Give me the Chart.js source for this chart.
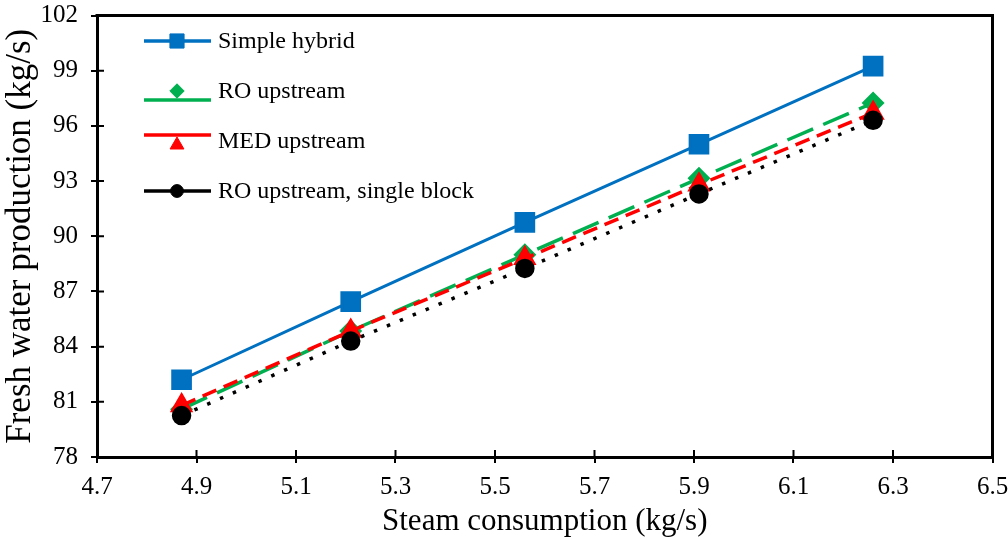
<!DOCTYPE html>
<html>
<head>
<meta charset="utf-8">
<script src="https://cdn.jsdelivr.net/npm/chart.js@4.4.1/dist/chart.umd.min.js"></script>
<style>
  body { margin: 0; background: #fff; }
  #wrap { width: 1008px; height: 540px; }
</style>
</head>
<body>
<div id="wrap"><canvas id="chart" width="1008" height="540"></canvas></div>
<script>
// steam consumption (kg/s)
const steam = [4.87, 5.21, 5.56, 5.91, 6.26];

// fresh water production (kg/s)
const simpleHybrid = [82.2, 86.45, 90.75, 95.0, 99.25];
const roUpstream = [80.6, 84.85, 89.0, 93.15, 97.25];
const medUpstream = [80.8, 84.85, 88.8, 92.8, 96.7];
const roSingleBlock = [80.25, 84.3, 88.25, 92.3, 96.3];

const seriesNames = ['Simple hybrid', 'RO upstream', 'MED upstream', 'RO upstream, single block'];

const xTicks = [4.7, 4.9, 5.1, 5.3, 5.5, 5.7, 5.9, 6.1, 6.3, 6.5];
const yTicks = [78, 81, 84, 87, 90, 93, 96, 99, 102];

const FONT = '"Liberation Serif", "Times New Roman", serif';

function toPoints(ys) {
    return steam.map((x, i) => ({ x: x, y: ys[i] }));
}

// box on top/right and the small ticks that poke inside the plot
const framePlugin = {
    id: 'frame',
    afterDraw(chart) {
        const ctx = chart.ctx;
        const a = chart.chartArea;
        const xs = chart.scales.x;
        const ys = chart.scales.y;
        ctx.save();
        ctx.strokeStyle = '#000';
        ctx.lineWidth = 3;
        ctx.beginPath();
        ctx.moveTo(a.left - 1.5, a.top);
        ctx.lineTo(a.right, a.top);
        ctx.lineTo(a.right, a.bottom);
        ctx.stroke();
        ctx.lineWidth = 2;
        ctx.beginPath();
        xTicks.forEach(v => {
            const px = xs.getPixelForValue(v);
            ctx.moveTo(px, a.bottom);
            ctx.lineTo(px, a.bottom - 7);
        });
        yTicks.forEach(v => {
            const py = ys.getPixelForValue(v);
            ctx.moveTo(a.left, py);
            ctx.lineTo(a.left + 7, py);
        });
        ctx.stroke();
        ctx.restore();
    }
};

// legend inside the plot, like the original
const legendPlugin = {
    id: 'insideLegend',
    afterDraw(chart) {
        const ctx = chart.ctx;
        const rows = [
            { lineY: 41, markY: 41 },
            { lineY: 100, markY: 91 },
            { lineY: 135, markY: 145 },
            { lineY: 191, markY: 191 }
        ];
        ctx.save();
        chart.data.datasets.forEach((ds, i) => {
            const r = rows[i];
            ctx.strokeStyle = ds.borderColor;
            ctx.lineWidth = 3.5;
            ctx.setLineDash([]);
            ctx.beginPath();
            ctx.moveTo(144, r.lineY);
            ctx.lineTo(211, r.lineY);
            ctx.stroke();
            ctx.fillStyle = ds.pointBackgroundColor;
            ctx.strokeStyle = ds.pointBorderColor;
            ctx.lineWidth = 1;
            Chart.helpers.drawPoint(ctx, {
                pointStyle: ds.pointStyle,
                radius: ds.pointRadius * 0.8,
                borderWidth: 1,
                rotation: 0
            }, 177, r.markY);
            ctx.fillStyle = '#000';
            ctx.font = '24px ' + FONT;
            ctx.textBaseline = 'middle';
            ctx.fillText(seriesNames[i], 218, 42 + i * 50);
        });
        ctx.restore();
    }
};

const ctx = document.getElementById('chart').getContext('2d');

new Chart(ctx, {
    type: 'line',
    data: {
        datasets: [{
            label: seriesNames[0],
            data: toPoints(simpleHybrid),
            borderColor: '#0070C0',
            borderWidth: 3,
            pointStyle: 'rect',
            pointRadius: 12.5,
            pointBackgroundColor: '#0070C0',
            pointBorderColor: '#0070C0',
            order: 4
        }, {
            label: seriesNames[1],
            data: toPoints(roUpstream),
            borderColor: '#00B050',
            borderWidth: 3.5,
            borderDash: [28, 11],
            pointStyle: 'rectRot',
            pointRadius: 9,
            pointBackgroundColor: '#00B050',
            pointBorderColor: '#00B050',
            order: 3
        }, {
            label: seriesNames[2],
            data: toPoints(medUpstream),
            borderColor: '#FF0000',
            borderWidth: 3.5,
            borderDash: [15, 8],
            pointStyle: 'triangle',
            pointRadius: 10,
            pointBackgroundColor: '#FF0000',
            pointBorderColor: '#FF0000',
            order: 2
        }, {
            label: seriesNames[3],
            data: toPoints(roSingleBlock),
            borderColor: '#000000',
            borderWidth: 3.5,
            borderDash: [3.5, 10.5],
            pointStyle: 'circle',
            pointRadius: 8,
            pointBackgroundColor: '#000000',
            pointBorderColor: '#000000',
            order: 1
        }]
    },
    options: {
        responsive: false,
        animation: false,
        layout: { padding: { top: 14, right: 15, left: 0, bottom: 0 } },
        plugins: {
            legend: { display: false },
            tooltip: { enabled: false }
        },
        scales: {
            x: {
                type: 'linear',
                min: 4.7,
                max: 6.5,
                afterBuildTicks: scale => { scale.ticks = xTicks.map(v => ({ value: v })); },
                afterFit: scale => {
                    scale.height = 83;
                    scale.paddingLeft = 0;
                    scale.paddingRight = 0;
                },
                ticks: {
                    color: '#000',
                    font: { family: FONT, size: 25 },
                    padding: 9,
                    maxRotation: 0,
                    callback: v => v.toFixed(1)
                },
                grid: {
                    drawOnChartArea: false,
                    color: '#000',
                    lineWidth: 2,
                    tickLength: 6
                },
                border: { display: true, color: '#000', width: 3 },
                title: {
                    display: true,
                    text: 'Steam consumption (kg/s)',
                    color: '#000',
                    font: { family: FONT, size: 31 },
                    padding: { top: 0, bottom: 0 }
                }
            },
            y: {
                min: 78,
                max: 102,
                afterBuildTicks: scale => { scale.ticks = yTicks.map(v => ({ value: v })); },
                afterFit: scale => {
                    scale.width = 97;
                    scale.paddingTop = 0;
                    scale.paddingBottom = 0;
                },
                ticks: {
                    color: '#000',
                    font: { family: FONT, size: 25 },
                    padding: 13
                },
                grid: {
                    drawOnChartArea: false,
                    color: '#000',
                    lineWidth: 2,
                    tickLength: 6
                },
                border: { display: true, color: '#000', width: 3 },
                title: {
                    display: true,
                    text: 'Fresh water production (kg/s)',
                    color: '#000',
                    font: { family: FONT, size: 35 },
                    padding: { top: 0, bottom: 0 }
                }
            }
        }
    },
    plugins: [framePlugin, legendPlugin]
});
</script>
</body>
</html>
